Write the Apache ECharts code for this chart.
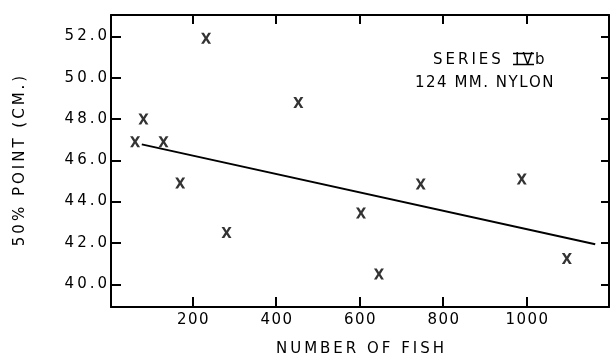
<!DOCTYPE html>
<html><head><meta charset="utf-8">
<script src="https://cdn.jsdelivr.net/npm/echarts@6/dist/echarts.min.js"></script>
<style>html,body{margin:0;padding:0;background:#fff}#c{width:610px;height:357px}</style>
</head><body><div id="c"></div>
<script>
// Data
var fishCounts = [62, 82, 130, 170, 232, 281, 453, 603, 646, 746, 988, 1096];
var pointCm    = [46.9, 48.0, 46.9, 44.9, 51.9, 42.5, 48.8, 43.45, 40.5, 44.85, 45.1, 41.25];
var fitX = [78, 1164];
var fitY = [46.77, 41.94];
var xTicks = [200, 400, 600, 800, 1000];
var yTicks = [40, 42, 44, 46, 48, 50, 52];
var xName = 'NUMBER OF FISH';
var yName = '50% POINT (CM.)';
var noteSeries = 'SERIES', noteRoman = 'IV', noteSuffix = 'b';
var noteLine2 = '124 MM. NYLON';

var FONT = 'DejaVu Sans';
var THIN = '\u2009', HAIR = '\u200A';
function spaced(s, gap) { return String(s).split('').join(gap); }

var xMark = 'path://M0,0 L2.8,0 L5,3.6 L7.2,0 L10,0 L6.5,5.5 L10,11 L7.2,11 L5,7.4 L2.8,11 L0,11 L3.5,5.5 Z';

var chart = echarts.init(document.getElementById('c'), null, {renderer: 'canvas'});
var axisLine = {show: true, lineStyle: {color: '#000', width: 2}};
chart.setOption({
  animation: false,
  backgroundColor: '#fff',
  grid: {left: 111, top: 15, right: 1, bottom: 50, containLabel: false, outerBoundsMode: 'none'},
  xAxis: [{
    type: 'value', min: 4.3, max: 1197, position: 'bottom',
    axisLine: axisLine,
    axisTick: {show: true, inside: true, length: 10, customValues: xTicks, lineStyle: {color: '#000', width: 2}},
    axisLabel: {show: true, customValues: xTicks, color: '#000', fontFamily: FONT, fontSize: 15, margin: 6,
      formatter: function (v) { return spaced(v, HAIR); }},
    splitLine: {show: false},
    name: spaced(xName, THIN), nameLocation: 'middle', nameGap: 35,
    nameTextStyle: {color: '#000', fontFamily: FONT, fontSize: 15}
  }, {
    type: 'value', min: 4.3, max: 1197, position: 'top',
    axisLine: axisLine,
    axisTick: {show: true, inside: true, length: 9, customValues: xTicks, lineStyle: {color: '#000', width: 2}},
    axisLabel: {show: false}, splitLine: {show: false}
  }],
  yAxis: [{
    type: 'value', min: 38.9, max: 53.03, position: 'left',
    axisLine: axisLine,
    axisTick: {show: true, inside: true, length: 10, customValues: yTicks, lineStyle: {color: '#000', width: 2}},
    axisLabel: {show: true, customValues: yTicks, color: '#000', fontFamily: FONT, fontSize: 15, margin: 4,
      formatter: function (v) { return spaced(v.toFixed(1), THIN); }},
    splitLine: {show: false},
    name: spaced(yName, THIN), nameLocation: 'middle', nameGap: 83, nameRotate: 90,
    nameTextStyle: {color: '#000', fontFamily: FONT, fontSize: 15}
  }, {
    type: 'value', min: 38.9, max: 53.03, position: 'right',
    axisLine: axisLine,
    axisTick: {show: true, inside: true, length: 8, customValues: yTicks, lineStyle: {color: '#000', width: 2}},
    axisLabel: {show: false}, splitLine: {show: false}
  }],
  series: [{
    type: 'scatter', xAxisIndex: 0, yAxisIndex: 0,
    data: fishCounts.map(function (x, i) { return [x, pointCm[i]]; }),
    symbol: xMark, symbolSize: [10, 11],
    itemStyle: {color: '#000'}
  }, {
    type: 'line', xAxisIndex: 0, yAxisIndex: 0,
    data: fitX.map(function (x, i) { return [x, fitY[i]]; }),
    symbol: 'none', lineStyle: {color: '#000', width: 2}
  }],
  graphic: [{
    type: 'text', left: 433, top: 53,
    style: {text: spaced(noteSeries, THIN), font: '15px "DejaVu Sans"', fill: '#000'}
  }, {
    type: 'text', left: 515, top: 53,
    style: {text: spaced(noteRoman, THIN), font: '15px "DejaVu Sans"', fill: '#000'}
  }, {
    type: 'text', left: 535, top: 53,
    style: {text: noteSuffix, font: '15px "DejaVu Sans"', fill: '#000'}
  }, {
    type: 'line', shape: {x1: 513, y1: 53.5, x2: 534, y2: 53.5}, style: {stroke: '#000', lineWidth: 1.5}
  }, {
    type: 'line', shape: {x1: 513, y1: 64.5, x2: 534, y2: 64.5}, style: {stroke: '#000', lineWidth: 1.5}
  }, {
    type: 'text', left: 415, top: 76,
    style: {text: spaced(noteLine2, HAIR), font: '15px "DejaVu Sans"', fill: '#000'}
  }]
});
</script></body></html>
